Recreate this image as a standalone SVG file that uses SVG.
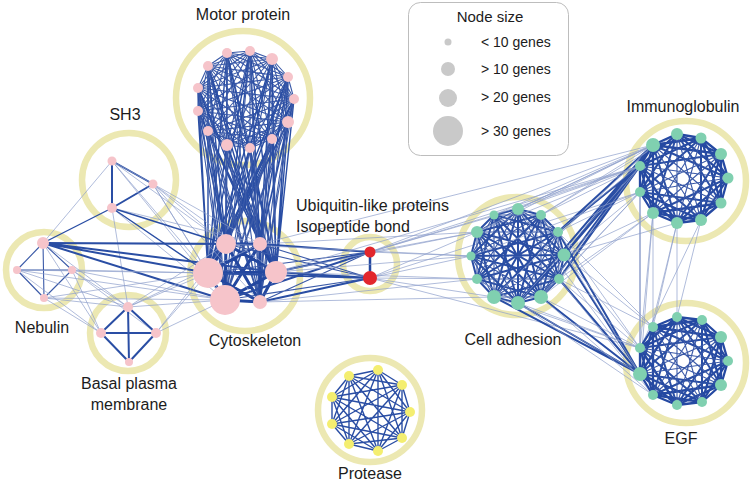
<svg xmlns="http://www.w3.org/2000/svg" width="754" height="484" viewBox="0 0 754 484">
<style>
.ring{fill:none;stroke:#ece8b2;stroke-width:6.5}
.e1{fill:none;stroke:#23479f;stroke-width:3;stroke-linejoin:round;stroke-linecap:round}
.e2{fill:none;stroke:#2a4ea4;stroke-width:1.4;stroke-linejoin:round}
.e3{fill:none;stroke:#3b5aa8;stroke-width:1.1;stroke-linejoin:round}
.e4{fill:none;stroke:#8e9fcb;stroke-width:0.7}
.e5{fill:none;stroke:#2a4ea4;stroke-width:2;stroke-linejoin:round}
.e6{fill:none;stroke:#2549a2;stroke-width:2.3;stroke-linejoin:round}
.pk{fill:#f6c4ca}
.gr{fill:#80d0b0}
.yl{fill:#f4ee70}
.rd{fill:#e2262c}
.lg{fill:#c9c9c9}
text{font-family:"Liberation Sans",Arial,sans-serif;font-size:16px;fill:#1c1c1c}
.lt{font-size:14px}
.lh{font-size:15px}
</style>
<rect width="754" height="484" fill="#ffffff"/>
<g id="rings">
<circle class="ring" cx="243" cy="98" r="67"/>
<circle class="ring" cx="129" cy="180" r="47"/>
<circle class="ring" cx="44" cy="270" r="38"/>
<circle class="ring" cx="128" cy="333" r="38"/>
<circle class="ring" cx="245" cy="276" r="55"/>
<circle class="ring" cx="370" cy="264" r="27"/>
<circle class="ring" cx="517" cy="256" r="59"/>
<circle class="ring" cx="686" cy="181" r="60"/>
<circle class="ring" cx="686" cy="363" r="60"/>
<circle class="ring" cx="370" cy="410" r="52"/>
</g>
<g id="connectors">
<!-- motor internal -->
<polygon class="e3" points="227,53 250,51 272,59 288,77 294,99 288,122 272,139 250,148 227,145 208,131 198,111 198,88 208,66"/>
<polygon class="e3" points="227,53 272,59 294,99 272,139 227,145 198,111 208,66 250,51 288,77 288,122 250,148 208,131 198,88"/>
<polygon class="e3" points="227,53 288,77 272,139 208,131 208,66 272,59 288,122 227,145 198,88 250,51 294,99 250,148 198,111"/>
<polygon class="e3" points="227,53 294,99 227,145 208,66 288,77 250,148 198,88 272,59 272,139 198,111 250,51 288,122 208,131"/>
<polygon class="e3" points="227,53 288,122 198,111 272,59 250,148 208,66 294,99 208,131 250,51 272,139 198,88 288,77 227,145"/>
<polygon class="e3" points="227,53 272,139 208,66 288,122 198,88 294,99 198,111 288,77 208,131 272,59 227,145 250,51 250,148"/>
<!-- motor to cytoskeleton -->
<path class="e2" d="M227,53L226,244L250,51L226,244L272,59L226,244L288,77L226,244L294,99L226,244L288,122L226,244L272,139L226,244L250,148L226,244L227,145L226,244L208,131L226,244L198,111L226,244L198,88L226,244L208,66"/>
<path class="e2" d="M227,53L260,244L250,51L260,244L272,59L260,244L288,77L260,244L294,99L260,244L288,122L260,244L272,139L260,244L250,148L260,244L227,145L260,244L208,131L260,244L198,111L260,244L198,88L260,244L208,66"/>
<path class="e2" d="M227,53L208,273L250,51L208,273L272,59L208,273L288,77L208,273L294,99L208,273L288,122L208,273L272,139L208,273L250,148L208,273L227,145L208,273L208,131L208,273L198,111L208,273L198,88L208,273L208,66"/>
<path class="e2" d="M227,53L276,272L250,51L276,272L272,59L276,272L288,77L276,272L294,99L276,272L288,122L276,272L272,139L276,272L250,148L276,272L227,145L276,272L208,131L276,272L198,111L276,272L198,88L276,272L208,66"/>
<path class="e3" d="M227,53L225,300L250,51L225,300L272,59L225,300L288,77L225,300L294,99L225,300L288,122L225,300L272,139L225,300L250,148L225,300L227,145L225,300L208,131L225,300L198,111L225,300L198,88L225,300L208,66"/>
<path class="e3" d="M227,53L260,302L250,51L260,302L272,59L260,302L288,77L260,302L294,99L260,302L288,122L260,302L272,139L260,302L250,148L260,302L227,145L260,302L208,131L260,302L198,111L260,302L198,88L260,302L208,66"/>
<!-- cytoskeleton internal -->
<path class="e1" d="M226,244L260,244L276,272L260,302L225,300L208,273Z M226,244L276,272 M226,244L260,302 M226,244L225,300 M260,244L260,302 M260,244L225,300 M260,244L208,273 M276,272L225,300 M276,272L208,273 M260,302L208,273"/>
<!-- SH3 -->
<path class="e5" d="M112,161L153,184L112,208Z"/>
<path class="e4" d="M112,161L226,244 M112,161L208,273 M112,161L225,300 M112,161L43,243 M153,184L226,244 M153,184L208,273 M153,184L225,300 M153,184L276,272 M153,184L260,302 M112,208L225,300 M112,208L260,244 M112,208L128,307 M112,161L260,244"/>
<path class="e2" d="M112,208L226,244 M112,208L208,273 M112,208L43,243"/>
<!-- Nebulin -->
<path class="e3" d="M43,243L17,270L44,298L72,270Z M43,243L44,298 M17,270L72,270"/>
<path class="e5" d="M43,243L208,273 M43,243L226,244 M43,243L225,300 M43,243L260,244 M43,243L276,272"/>
<path class="e4" d="M43,243L128,307 M43,243L101,333 M17,270L128,307 M17,270L208,273 M17,270L101,333 M72,270L128,307 M72,270L208,273 M72,270L225,300 M72,270L101,333 M44,298L128,307 M44,298L208,273 M44,298L101,333 M72,270L156,333 M17,270L225,300 M44,298L225,300"/>
<!-- Basal -->
<path class="e5" d="M128,307L101,333L129,362L156,333Z M128,307L129,362 M101,333L156,333"/>
<path class="e4" d="M128,307L208,273 M128,307L226,244 M128,307L225,300 M156,333L208,273 M156,333L225,300 M128,307L260,244 M156,333L226,244"/>
<!-- cytoskeleton to ubiquitin -->
<path class="e5" d="M276,272L370,252 M276,272L370,278 M260,244L370,252 M260,302L370,278 M208,273L370,278 M225,300L370,252"/>
<path class="e3" d="M226,244L370,278 M260,244L370,278 M260,302L370,252 M208,273L370,252 M225,300L370,278"/>
<path class="e1" style="stroke-width:2.5" d="M370,252L370,278"/>
<!-- to cell adhesion / beyond -->
<path class="e4" d="M370,252L477,232 M370,252L494,215 M370,252L471,256 M370,252L518,209 M370,278L471,256 M370,278L477,279 M370,278L494,297 M370,278L477,232 M370,252L653,145 M370,252L640,166 M370,278L640,192 M370,278L640,348 M276,272L471,256 M276,272L477,232 M260,244L477,232 M260,302L477,279 M276,272L477,279 M260,244L653,145 M276,272L640,166 M260,302L494,297 M226,244L471,256"/>
<!-- cell adhesion internal -->
<polygon class="e5" points="518,209 541,215 558,232 564,255 559,279 541,297 518,303 494,297 477,279 471,256 477,232 494,215"/>
<polygon class="e5" points="518,209 541,297 477,232 564,255 477,279 541,215 518,303 494,215 559,279 471,256 558,232 494,297"/>
<polygon class="e3" points="518,209 558,232 559,279 518,303 477,279 477,232"/>
<polygon class="e3" points="541,215 564,255 541,297 494,297 471,256 494,215"/>
<path class="e5" d="M518,209L564,255L518,303L471,256Z M541,215L559,279L494,297L477,232Z M558,232L541,297L477,279L494,215Z"/>
<path class="e3" d="M518,209L559,279L477,279Z M541,215L541,297L471,256Z M558,232L518,303L477,232Z M564,255L494,297L494,215Z"/>
<path class="e5" d="M518,209L518,303 M541,215L494,297 M558,232L477,279 M564,255L471,256 M559,279L477,232 M541,297L494,215"/>
<!-- cell adhesion to immunoglobulin -->
<path class="e5" d="M564,255L653,145 M558,232L653,145 M559,279L653,145 M564,255L640,166 M541,297L653,145 M559,279L640,166 M518,303L653,145 M558,232L640,166"/>
<path class="e4" d="M518,209L653,145 M541,215L653,145 M518,209L640,166 M494,215L653,145 M541,215L640,166 M558,232L640,192 M564,255L640,192 M559,279L640,192 M541,297L640,192 M541,297L640,166 M518,303L640,166 M494,297L653,145 M564,255L653,213 M559,279L653,213 M541,215L677,134 M518,209L677,134 M477,232L653,145 M477,232L640,166 M494,215L640,166 M471,256L640,192 M558,232L677,134 M564,255L677,223 M541,297L653,213"/>
<!-- cell adhesion to EGF -->
<path class="e5" d="M541,297L640,374 M518,303L640,374 M559,279L640,374 M564,255L640,374 M494,297L640,374 M558,232L640,374"/>
<path class="e4" d="M564,255L640,348 M559,279L640,348 M558,232L640,348 M541,297L640,348 M541,215L640,374 M518,209L640,374 M559,279L653,327 M564,255L653,327 M518,303L640,348 M558,232L653,327 M477,279L640,374 M494,297L640,348 M541,297L653,395 M518,303L653,395 M559,279L653,395"/>
<!-- immunoglobulin to EGF -->
<path class="e4" d="M653,213L653,327 M653,213L640,348 M677,223L677,317 M640,192L640,348 M677,223L653,327 M701,220L677,317 M653,213L640,374 M640,192L640,374 M701,220L640,348 M677,223L640,374 M640,166L640,374"/>
<!-- immunoglobulin internal -->
<polygon class="e6" points="677,134 701,138 721,154 728,178 721,203 701,220 677,223 653,213 640,192 640,166 653,145"/>
<polygon class="e6" points="677,134 721,154 721,203 677,223 640,192 653,145 701,138 728,178 701,220 653,213 640,166"/>
<polygon class="e6" points="677,134 728,178 677,223 640,166 701,138 721,203 653,213 653,145 721,154 701,220 640,192"/>
<polygon class="e5" points="677,134 721,203 640,192 701,138 701,220 640,166 721,154 677,223 653,145 728,178 653,213"/>
<polygon class="e3" points="677,134 701,220 653,145 721,203 640,166 728,178 640,192 721,154 653,213 701,138 677,223"/>
<!-- EGF internal -->
<polygon class="e6" points="677,317 702,320 721,337 728,361 721,385 702,402 677,405 653,395 640,374 640,348 653,327"/>
<polygon class="e6" points="677,317 721,337 721,385 677,405 640,374 653,327 702,320 728,361 702,402 653,395 640,348"/>
<polygon class="e6" points="677,317 728,361 677,405 640,348 702,320 721,385 653,395 653,327 721,337 702,402 640,374"/>
<polygon class="e5" points="677,317 721,385 640,374 702,320 702,402 640,348 721,337 677,405 653,327 728,361 653,395"/>
<polygon class="e3" points="677,317 702,402 653,327 721,385 640,348 728,361 640,374 721,337 653,395 702,320 677,405"/>
<!-- protease internal -->
<polygon class="e2" points="378,370 402,385 410,412 402,438 378,451 349,444 332,424 332,397 349,376"/>
<polygon class="e2" points="378,370 410,412 378,451 332,424 349,376 402,385 402,438 349,444 332,397"/>
<polygon class="e2" points="378,370 378,451 349,376 402,438 332,397 410,412 332,424 402,385 349,444"/>
<path class="e2" d="M378,370L402,438L332,424Z M402,385L378,451L332,397Z M410,412L349,444L349,376Z"/>
</g>
<g id="motor-protein">
<circle class="pk" cx="227" cy="53" r="5"/><circle class="pk" cx="250" cy="51" r="5"/><circle class="pk" cx="272" cy="59" r="6"/><circle class="pk" cx="288" cy="77" r="5"/><circle class="pk" cx="294" cy="99" r="5"/><circle class="pk" cx="288" cy="122" r="6"/><circle class="pk" cx="272" cy="139" r="5"/><circle class="pk" cx="250" cy="148" r="5"/><circle class="pk" cx="227" cy="145" r="6"/><circle class="pk" cx="208" cy="131" r="5"/><circle class="pk" cx="198" cy="111" r="5"/><circle class="pk" cx="198" cy="88" r="5"/><circle class="pk" cx="208" cy="66" r="5"/>
<text x="243" y="20" text-anchor="middle">Motor protein</text>
</g>
<g id="sh3">
<circle class="pk" cx="112" cy="161" r="4.5"/><circle class="pk" cx="153" cy="184" r="4.5"/><circle class="pk" cx="112" cy="208" r="5"/>
<text x="125" y="120" text-anchor="middle">SH3</text>
</g>
<g id="nebulin">
<circle class="pk" cx="43" cy="243" r="6"/><circle class="pk" cx="17" cy="270" r="4"/><circle class="pk" cx="72" cy="270" r="4"/><circle class="pk" cx="44" cy="298" r="4"/>
<text x="42" y="333" text-anchor="middle">Nebulin</text>
</g>
<g id="basal-plasma-membrane">
<circle class="pk" cx="128" cy="307" r="5"/><circle class="pk" cx="101" cy="333" r="5"/><circle class="pk" cx="156" cy="333" r="5"/><circle class="pk" cx="129" cy="362" r="4"/>
<text x="129" y="389" text-anchor="middle">Basal plasma</text>
<text x="129" y="410" text-anchor="middle">membrane</text>
</g>
<g id="cytoskeleton">
<circle class="pk" cx="226" cy="244" r="10"/><circle class="pk" cx="260" cy="244" r="7"/><circle class="pk" cx="208" cy="273" r="15"/><circle class="pk" cx="276" cy="272" r="11"/><circle class="pk" cx="225" cy="300" r="15"/><circle class="pk" cx="260" cy="302" r="7"/>
<text x="255" y="346" text-anchor="middle">Cytoskeleton</text>
</g>
<g id="ubiquitin">
<circle class="rd" cx="370" cy="252" r="5.5"/><circle class="rd" cx="370" cy="278" r="7"/>
<text x="296" y="211">Ubiquitin-like proteins</text>
<text x="296" y="232">Isopeptide bond</text>
</g>
<g id="cell-adhesion">
<circle class="gr" cx="518" cy="209" r="6"/><circle class="gr" cx="541" cy="215" r="5"/><circle class="gr" cx="558" cy="232" r="5"/><circle class="gr" cx="564" cy="255" r="6.5"/><circle class="gr" cx="559" cy="279" r="5"/><circle class="gr" cx="541" cy="297" r="7"/><circle class="gr" cx="518" cy="303" r="7"/><circle class="gr" cx="494" cy="297" r="7"/><circle class="gr" cx="477" cy="279" r="5"/><circle class="gr" cx="471" cy="256" r="4.5"/><circle class="gr" cx="477" cy="232" r="6"/><circle class="gr" cx="494" cy="215" r="4.5"/>
<text x="513" y="345" text-anchor="middle">Cell adhesion</text>
</g>
<g id="immunoglobulin">
<circle class="gr" cx="677" cy="134" r="6"/><circle class="gr" cx="701" cy="138" r="5.5"/><circle class="gr" cx="721" cy="154" r="6"/><circle class="gr" cx="728" cy="178" r="5.5"/><circle class="gr" cx="721" cy="203" r="5.5"/><circle class="gr" cx="701" cy="220" r="6"/><circle class="gr" cx="677" cy="223" r="6"/><circle class="gr" cx="653" cy="213" r="6"/><circle class="gr" cx="640" cy="192" r="5"/><circle class="gr" cx="640" cy="166" r="5"/><circle class="gr" cx="653" cy="145" r="7"/>
<text x="683" y="112" text-anchor="middle">Immunoglobulin</text>
</g>
<g id="egf">
<circle class="gr" cx="677" cy="317" r="5"/><circle class="gr" cx="702" cy="320" r="5"/><circle class="gr" cx="721" cy="337" r="6"/><circle class="gr" cx="728" cy="361" r="5"/><circle class="gr" cx="721" cy="385" r="6"/><circle class="gr" cx="702" cy="402" r="5"/><circle class="gr" cx="677" cy="405" r="5"/><circle class="gr" cx="653" cy="395" r="5"/><circle class="gr" cx="640" cy="374" r="7"/><circle class="gr" cx="640" cy="348" r="5"/><circle class="gr" cx="653" cy="327" r="5"/>
<text x="681" y="444" text-anchor="middle">EGF</text>
</g>
<g id="protease">
<circle class="yl" cx="378" cy="370" r="5"/><circle class="yl" cx="402" cy="385" r="5"/><circle class="yl" cx="410" cy="412" r="5"/><circle class="yl" cx="402" cy="438" r="5"/><circle class="yl" cx="378" cy="451" r="5"/><circle class="yl" cx="349" cy="444" r="5"/><circle class="yl" cx="332" cy="424" r="5"/><circle class="yl" cx="332" cy="397" r="5"/><circle class="yl" cx="349" cy="376" r="5"/>
<text x="370" y="479" text-anchor="middle">Protease</text>
</g>
<g id="legend">
<rect x="408.5" y="2.5" width="160" height="153" rx="12" fill="#ffffff" stroke="#bdbdbd" stroke-width="1"/>
<text class="lh" x="490" y="22" text-anchor="middle">Node size</text>
<circle class="lg" cx="448" cy="42" r="3.5"/>
<circle class="lg" cx="448" cy="69" r="7"/>
<circle class="lg" cx="448" cy="98" r="9"/>
<circle class="lg" cx="448" cy="131" r="15"/>
<text class="lt" x="481" y="47">&lt; 10 genes</text>
<text class="lt" x="481" y="74">&gt; 10 genes</text>
<text class="lt" x="481" y="102">&gt; 20 genes</text>
<text class="lt" x="481" y="136">&gt; 30 genes</text>
</g>
</svg>
